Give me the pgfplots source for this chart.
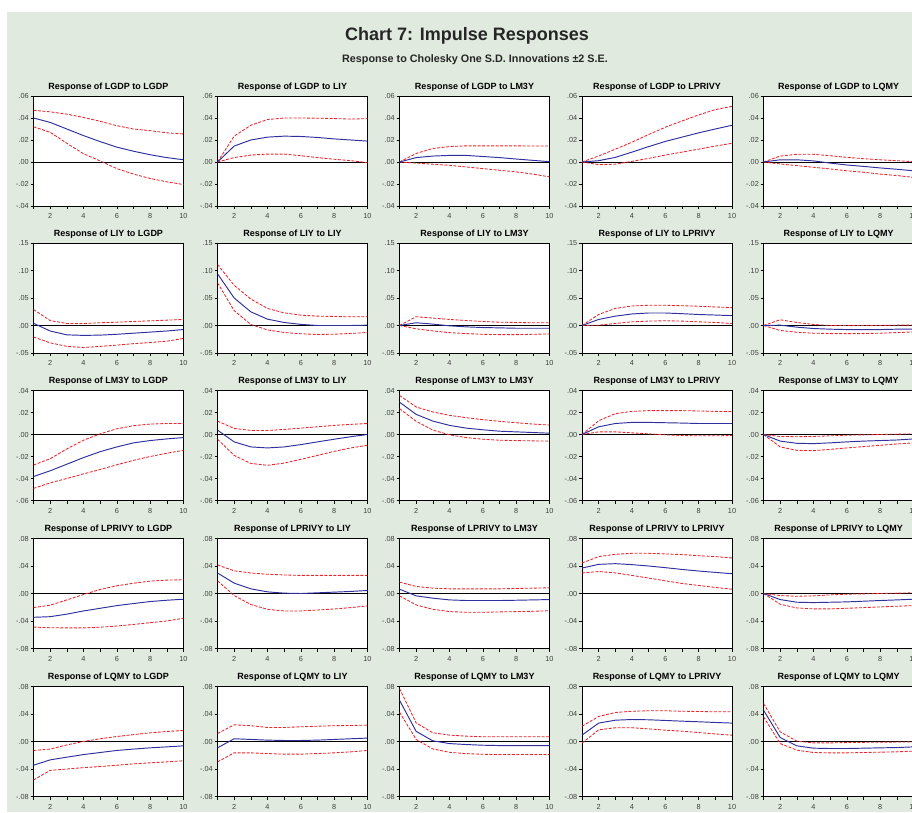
\documentclass[border=0pt]{standalone}
\usepackage{fontspec}
\setmainfont{Liberation Sans}
\usepackage{pgfplots}
\usepackage{pgfplotstable}
\pgfplotsset{compat=1.18}
\definecolor{bg}{RGB}{224,234,222}
\definecolor{irfblue}{RGB}{48,48,158}
\definecolor{irfred}{RGB}{236,36,44}

% columns: x  b (response)  u (+2SE)  l (-2SE)
\pgfplotstableread{
x b u l
1 0.040 0.047 0.032
2 0.036 0.0456 0.027
3 0.030 0.0435 0.017
4 0.024 0.0405 0.0075
5 0.0185 0.037 0.001
6 0.0135 0.033 -0.006
7 0.0098 0.030 -0.011
8 0.0066 0.0285 -0.015
9 0.004 0.0265 -0.018
10 0.002 0.0255 -0.0205
}\TAA
\pgfplotstableread{
x b u l
1 0 0 0
2 0.0145 0.0235 0.004
3 0.020 0.0334 0.0063
4 0.0226 0.0386 0.0072
5 0.0235 0.040 0.0072
6 0.0232 0.040 0.0057
7 0.0223 0.0398 0.004
8 0.021 0.0395 0.0025
9 0.020 0.039 0.0012
10 0.019 0.0394 -0.0006
}\TAB
\pgfplotstableread{
x b u l
1 0 0 0
2 0.004 0.0078 -0.001
3 0.0054 0.0123 -0.002
4 0.006 0.014 -0.003
5 0.006 0.0147 -0.0045
6 0.005 0.0147 -0.006
7 0.004 0.0147 -0.0075
8 0.0027 0.0147 -0.009
9 0.0015 0.0145 -0.011
10 0.0003 0.0145 -0.0135
}\TAC
\pgfplotstableread{
x b u l
1 0 0 0
2 0.0012 0.0054 -0.0024
3 0.0042 0.0117 -0.002
4 0.009 0.018 0.0006
5 0.014 0.025 0.0033
6 0.0187 0.0316 0.0063
7 0.0226 0.0373 0.009
8 0.0265 0.0428 0.0117
9 0.030 0.0476 0.0145
10 0.0334 0.0506 0.017
}\TAD
\pgfplotstableread{
x b u l
1 0 0 0
2 0.002 0.0054 -0.0018
3 0.002 0.007 -0.0033
4 0.001 0.007 -0.0048
5 -0.001 0.0057 -0.0063
6 -0.0027 0.0042 -0.008
7 -0.004 0.003 -0.0093
8 -0.0054 0.002 -0.011
9 -0.0066 0.0012 -0.0123
10 -0.008 0.0003 -0.014
}\TAE
\pgfplotstableread{
x b u l
1 0.004 0.029 -0.021
2 -0.010 0.009 -0.0315
3 -0.017 0.0036 -0.038
4 -0.018 0.0036 -0.040
5 -0.0175 0.005 -0.038
6 -0.016 0.006 -0.0357
7 -0.014 0.0073 -0.033
8 -0.012 0.0085 -0.031
9 -0.010 0.0097 -0.0285
10 -0.0073 0.011 -0.0236
}\TBA
\pgfplotstableread{
x b u l
1 0.094 0.111 0.0776
2 0.050 0.073 0.027
3 0.0248 0.048 0.0018
4 0.0115 0.031 -0.008
5 0.0055 0.023 -0.0127
6 0.002 0.0188 -0.015
7 0.0 0.017 -0.0164
8 0.0 0.0164 -0.0158
9 0.0 0.0158 -0.0145
10 0.0006 0.0158 -0.0127
}\TBB
\pgfplotstableread{
x b u l
1 0 0 0
2 0.005 0.016 -0.006
3 0.0025 0.0135 -0.0098
4 -0.0006 0.011 -0.013
5 -0.0025 0.009 -0.0147
6 -0.0037 0.0074 -0.016
7 -0.0043 0.006 -0.0166
8 -0.005 0.0055 -0.0166
9 -0.005 0.005 -0.016
10 -0.005 0.005 -0.0153
}\TBC
\pgfplotstableread{
x b u l
1 0 0 0
2 0.011 0.020 0.0006
3 0.017 0.031 0.0037
4 0.021 0.0355 0.0067
5 0.0227 0.0368 0.008
6 0.0227 0.0368 0.0086
7 0.0215 0.036 0.008
8 0.020 0.035 0.0067
9 0.019 0.0337 0.0055
10 0.018 0.0325 0.0037
}\TBD
\pgfplotstableread{
x b u l
1 0 0 0
2 0.0006 0.0104 -0.009
3 -0.003 0.0055 -0.0123
4 -0.0055 0.0018 -0.014
5 -0.0067 0 -0.0147
6 -0.0074 0 -0.0147
7 -0.0074 0 -0.0147
8 -0.0074 0 -0.014
9 -0.0067 0.0006 -0.0129
10 -0.0067 0.0006 -0.0117
}\TBE
\pgfplotstableread{
x b u l
1 -0.0382 -0.0278 -0.049
2 -0.033 -0.022 -0.044
3 -0.027 -0.0131 -0.040
4 -0.021 -0.0052 -0.0358
5 -0.0156 0.0006 -0.0318
6 -0.0113 0.0052 -0.0275
7 -0.0076 0.008 -0.0235
8 -0.0055 0.0095 -0.020
9 -0.004 0.010 -0.017
10 -0.0028 0.010 -0.0144
}\TCA
\pgfplotstableread{
x b u l
1 0.004 0.0122 -0.0043
2 -0.0067 0.0055 -0.019
3 -0.0113 0.0037 -0.0263
4 -0.0122 0.0037 -0.028
5 -0.0113 0.0046 -0.026
6 -0.0092 0.0058 -0.0226
7 -0.0067 0.007 -0.019
8 -0.0043 0.0083 -0.0153
9 -0.002 0.0092 -0.0122
10 0 0.010 -0.0098
}\TCB
\pgfplotstableread{
x b u l
1 0.0294 0.0355 0.0235
2 0.0183 0.025 0.012
3 0.0122 0.0205 0.004
4 0.0083 0.0174 -0.0003
5 0.0058 0.0153 -0.0028
6 0.0043 0.0135 -0.0043
7 0.003 0.012 -0.0052
8 0.0024 0.0107 -0.0055
9 0.0018 0.0095 -0.0058
10 0.0012 0.0086 -0.006
}\TCC
\pgfplotstableread{
x b u l
1 0 0 0
2 0.007 0.0125 0.0024
3 0.010 0.019 0.0024
4 0.011 0.021 0.0015
5 0.011 0.0217 0.0006
6 0.0107 0.0217 -0.0003
7 0.0104 0.0217 -0.0009
8 0.010 0.0214 -0.0012
9 0.010 0.021 -0.0012
10 0.010 0.0208 -0.0009
}\TCD
\pgfplotstableread{
x b u l
1 0 0 0
2 -0.006 -0.0018 -0.0113
3 -0.008 -0.002 -0.0144
4 -0.0083 -0.0018 -0.0147
5 -0.0076 -0.0012 -0.0135
6 -0.0067 -0.0006 -0.0122
7 -0.006 -0.0003 -0.011
8 -0.0055 0 -0.0098
9 -0.005 0.0003 -0.0086
10 -0.004 0.0006 -0.0076
}\TCE
\pgfplotstableread{
x b u l
1 -0.0346 -0.0205 -0.0488
2 -0.0337 -0.017 -0.0498
3 -0.030 -0.0093 -0.050
4 -0.0254 -0.0015 -0.050
5 -0.0215 0.0059 -0.049
6 -0.0176 0.0112 -0.0473
7 -0.0146 0.015 -0.045
8 -0.0117 0.018 -0.0424
9 -0.0098 0.0195 -0.040
10 -0.0083 0.020 -0.036
}\TDA
\pgfplotstableread{
x b u l
1 0.0298 0.0415 0.0185
2 0.0151 0.033 -0.003
3 0.0068 0.0298 -0.016
4 0.0024 0.028 -0.023
5 0.0005 0.027 -0.0254
6 0 0.0263 -0.0254
7 0.001 0.0263 -0.024
8 0.002 0.0263 -0.0225
9 0.003 0.0263 -0.0205
10 0.0044 0.0263 -0.018
}\TDB
\pgfplotstableread{
x b u l
1 0.0063 0.0166 -0.0034
2 -0.0034 0.0102 -0.0166
3 -0.0068 0.0078 -0.023
4 -0.0093 0.0068 -0.0263
5 -0.0102 0.0068 -0.0273
6 -0.0102 0.0068 -0.0273
7 -0.0102 0.0068 -0.0268
8 -0.0098 0.0073 -0.0263
9 -0.0093 0.0078 -0.0259
10 -0.0088 0.0083 -0.025
}\TDC
\pgfplotstableread{
x b u l
1 0.037 0.0444 0.0298
2 0.0424 0.0537 0.032
3 0.0434 0.057 0.030
4 0.042 0.0585 0.0263
5 0.040 0.0585 0.0224
6 0.0376 0.0576 0.0185
7 0.035 0.0566 0.0146
8 0.0327 0.055 0.0117
9 0.0307 0.0537 0.0088
10 0.0288 0.0517 0.0063
}\TDD
\pgfplotstableread{
x b u l
1 0 0 0
2 -0.0088 -0.003 -0.0156
3 -0.0127 -0.004 -0.021
4 -0.0132 -0.0034 -0.0224
5 -0.0127 -0.002 -0.0224
6 -0.0122 -0.001 -0.0215
7 -0.0112 -0.0005 -0.0205
8 -0.0102 0 -0.0195
9 -0.0093 0.0005 -0.0185
10 -0.0083 0.001 -0.0176
}\TDE
\pgfplotstableread{
x b u l
1 -0.0345 -0.013 -0.056
2 -0.0267 -0.011 -0.042
3 -0.0228 -0.005 -0.040
4 -0.019 0 -0.038
5 -0.016 0.004 -0.0364
6 -0.013 0.0073 -0.0345
7 -0.011 0.010 -0.0325
8 -0.0092 0.0126 -0.031
9 -0.0078 0.0146 -0.0296
10 -0.0063 0.016 -0.028
}\TEA
\pgfplotstableread{
x b u l
1 -0.0092 0.0117 -0.0296
2 0.004 0.0243 -0.0165
3 0.003 0.023 -0.0165
4 0.002 0.0204 -0.0175
5 0.0015 0.0204 -0.0184
6 0.0015 0.0214 -0.0184
7 0.002 0.0223 -0.0175
8 0.003 0.023 -0.0165
9 0.004 0.0233 -0.015
10 0.005 0.0238 -0.013
}\TEB
\pgfplotstableread{
x b u l
1 0.060 0.077 0.0426
2 0.0147 0.027 0.003
3 0.001 0.0127 -0.0108
4 -0.003 0.0093 -0.0157
5 -0.0044 0.0078 -0.0176
6 -0.0054 0.0069 -0.0186
7 -0.0059 0.0069 -0.019
8 -0.0059 0.0069 -0.019
9 -0.0059 0.0069 -0.019
10 -0.0059 0.0069 -0.019
}\TEC
\pgfplotstableread{
x b u l
1 0.0093 0.0223 -0.0024
2 0.0268 0.0364 0.017
3 0.031 0.0422 0.020
4 0.032 0.044 0.020
5 0.0316 0.0447 0.0184
6 0.0306 0.0447 0.0165
7 0.0296 0.044 0.015
8 0.0287 0.0437 0.013
9 0.0277 0.0432 0.011
10 0.0268 0.0432 0.0092
}\TED
\pgfplotstableread{
x b u l
1 0.0456 0.0553 0.036
2 0.0058 0.0141 -0.003
3 -0.0063 0.0005 -0.0126
4 -0.0097 -0.002 -0.016
5 -0.0102 -0.002 -0.0165
6 -0.0102 -0.0015 -0.0165
7 -0.0097 -0.0012 -0.016
8 -0.0092 -0.001 -0.0155
9 -0.0088 -0.0008 -0.015
10 -0.0078 -0.0005 -0.014
}\TEE

\pgfplotsset{
  every axis title shift=0pt,
  irf/.style={
    scale only axis, width=150pt, height=110pt,
    xmin=1, xmax=10,
    xtick={1,2,...,10}, xticklabels={,2,,4,,6,,8,,10},
    tick align=outside, tick pos=left,
    major tick length=3pt,
    tick style={black, line width=0.5pt},
    axis line style={black, line width=0.8pt},
    axis background/.style={fill=white},
    tick label style={font=\fontsize{7.3}{8}\selectfont, text=black!75},
    yticklabel style={inner xsep=1.5pt},
    xticklabel style={yshift=-1pt},
    title style={font=\bfseries\fontsize{9}{10}\selectfont, yshift=1.5pt},
    scaled y ticks=false,
  },
  r1/.style={ymin=-0.04, ymax=0.06, ytick={-0.04,-0.02,0,0.02,0.04,0.06},
    yticklabels={-.04,-.02,.00,.02,.04,.06}},
  r2/.style={ymin=-0.05, ymax=0.15, ytick={-0.05,0,0.05,0.10,0.15},
    yticklabels={-.05,.00,.05,.10,.15}},
  r3/.style={ymin=-0.06, ymax=0.04, ytick={-0.06,-0.04,-0.02,0,0.02,0.04},
    yticklabels={-.06,-.04,-.02,.00,.02,.04}},
  r4/.style={ymin=-0.08, ymax=0.08, ytick={-0.08,-0.04,0,0.04,0.08},
    yticklabels={-.08,-.04,.00,.04,.08}},
  band/.style={irfred, line width=0.85pt, dash pattern=on 3pt off 1.5pt},
}

\newcommand{\irf}[5]{%
  \begin{axis}[irf, #4, at={(#1pt,#2pt)}, anchor=north west, title={#3}]
    \addplot[black, line width=0.7pt] coordinates {(1,0) (10,0)};
    \addplot[band] table[x=x, y=u] {#5};
    \addplot[band] table[x=x, y=l] {#5};
    \addplot[irfblue, line width=0.95pt] table[x=x, y=b] {#5};
  \end{axis}}

\begin{document}
\begin{tikzpicture}
\useasboundingbox (0,0) rectangle (912pt,812pt);
\clip (0,0) rectangle (912pt,812pt);
\fill[white] (0,0) rectangle (912pt,812pt);
\fill[bg] (7pt,0) rectangle (912pt,800pt);
\node[anchor=base, font=\bfseries\fontsize{18}{20}\selectfont, text=black!85] at (467pt,771pt) {Chart 7: Impulse Responses};
\node[anchor=base, font=\bfseries\fontsize{10.8}{12}\selectfont, text=black!85] at (475pt,749pt) {Response to Cholesky One S.D. Innovations ±2 S.E.};

\irf{33.5}{716}{Response of LGDP to LGDP}{r1}{\TAA}
\irf{217.5}{716}{Response of LGDP to LIY}{r1}{\TAB}
\irf{399.5}{716}{Response of LGDP to LM3Y}{r1}{\TAC}
\irf{582}{716}{Response of LGDP to LPRIVY}{r1}{\TAD}
\irf{763.5}{716}{Response of LGDP to LQMY}{r1}{\TAE}

\irf{33.5}{569}{Response of LIY to LGDP}{r2}{\TBA}
\irf{217.5}{569}{Response of LIY to LIY}{r2}{\TBB}
\irf{399.5}{569}{Response of LIY to LM3Y}{r2}{\TBC}
\irf{582}{569}{Response of LIY to LPRIVY}{r2}{\TBD}
\irf{763.5}{569}{Response of LIY to LQMY}{r2}{\TBE}

\irf{33.5}{421.5}{Response of LM3Y to LGDP}{r3}{\TCA}
\irf{217.5}{421.5}{Response of LM3Y to LIY}{r3}{\TCB}
\irf{399.5}{421.5}{Response of LM3Y to LM3Y}{r3}{\TCC}
\irf{582}{421.5}{Response of LM3Y to LPRIVY}{r3}{\TCD}
\irf{763.5}{421.5}{Response of LM3Y to LQMY}{r3}{\TCE}

\irf{33.5}{273.5}{Response of LPRIVY to LGDP}{r4}{\TDA}
\irf{217.5}{273.5}{Response of LPRIVY to LIY}{r4}{\TDB}
\irf{399.5}{273.5}{Response of LPRIVY to LM3Y}{r4}{\TDC}
\irf{582}{273.5}{Response of LPRIVY to LPRIVY}{r4}{\TDD}
\irf{763.5}{273.5}{Response of LPRIVY to LQMY}{r4}{\TDE}

\irf{33.5}{125.5}{Response of LQMY to LGDP}{r4}{\TEA}
\irf{217.5}{125.5}{Response of LQMY to LIY}{r4}{\TEB}
\irf{399.5}{125.5}{Response of LQMY to LM3Y}{r4}{\TEC}
\irf{582}{125.5}{Response of LQMY to LPRIVY}{r4}{\TED}
\irf{763.5}{125.5}{Response of LQMY to LQMY}{r4}{\TEE}
\end{tikzpicture}
\end{document}
